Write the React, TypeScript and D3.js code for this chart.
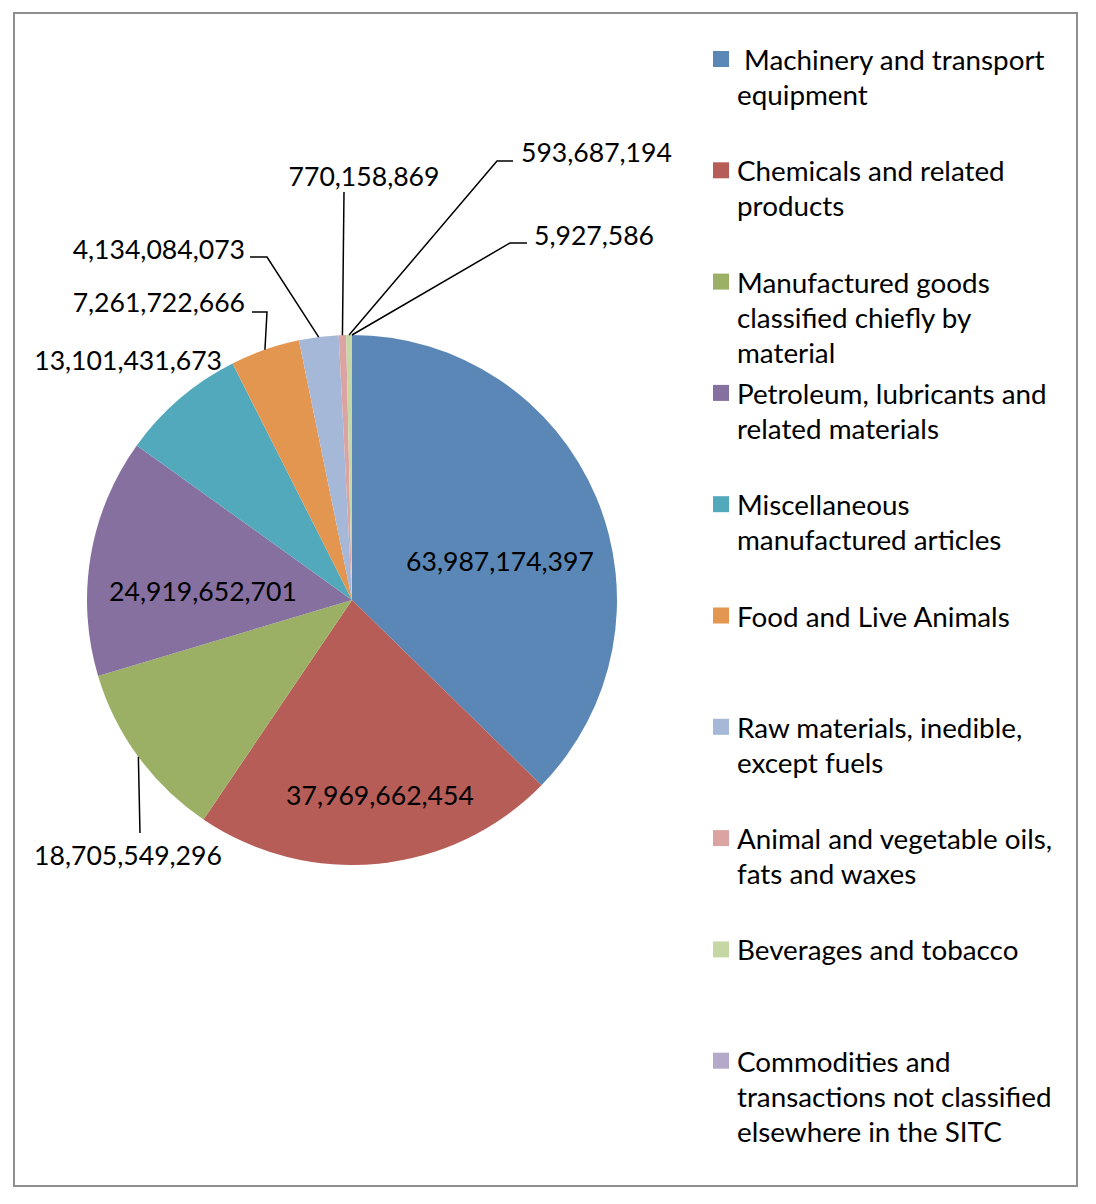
import React, { useEffect, useRef } from 'react';
import * as d3 from 'd3';

// SITC categories, clockwise from 12 o'clock
const categories = [
  'Machinery and transport equipment',
  'Chemicals and related products',
  'Manufactured goods classified chiefly by material',
  'Petroleum, lubricants and related materials',
  'Miscellaneous manufactured articles',
  'Food and Live Animals',
  'Raw materials, inedible, except fuels',
  'Animal and vegetable oils, fats and waxes',
  'Beverages and tobacco',
  'Commodities and transactions not classified elsewhere in the SITC',
];

const values = [
  63987174397, 37969662454, 18705549296, 24919652701, 13101431673,
  7261722666, 4134084073, 770158869, 593687194, 5927586,
];

// legend text broken the way the original wraps it
const legendLines = [
  [' Machinery and transport', 'equipment'],
  ['Chemicals and related', 'products'],
  ['Manufactured goods', 'classified chiefly by', 'material'],
  ['Petroleum, lubricants and', 'related materials'],
  ['Miscellaneous', 'manufactured articles'],
  ['Food and Live Animals'],
  ['Raw materials, inedible,', 'except fuels'],
  ['Animal and vegetable oils,', 'fats and waxes'],
  ['Beverages and tobacco'],
  ['Commodities and', 'transactions not classified', 'elsewhere in the SITC'],
];

const colors = [
  '#5A87B5', '#B75D58', '#9BB064', '#8670A0', '#53A9BC',
  '#E2964F', '#A5B8D8', '#DCA3A3', '#C6D7A6', '#B5A9C9',
];

// label layout: text anchor point, anchor, and optional leader elbow
type LabelPos = { x: number; y: number; anchor: string; elbow?: [number, number][] };
const labelPos: LabelPos[] = [
  { x: 500, y: 571, anchor: 'middle' },
  { x: 380, y: 805, anchor: 'middle' },
  { x: 128, y: 865, anchor: 'middle', elbow: [[140, 833]] },
  { x: 203, y: 601, anchor: 'middle' },
  { x: 222, y: 370, anchor: 'end' },
  { x: 245, y: 312, anchor: 'end', elbow: [[252, 312], [267, 312]] },
  { x: 245, y: 259, anchor: 'end', elbow: [[250, 257], [267, 257]] },
  { x: 364, y: 186, anchor: 'middle', elbow: [[344, 192]] },
  { x: 521, y: 162, anchor: 'start', elbow: [[513, 161], [497, 161]] },
  { x: 534, y: 245, anchor: 'start', elbow: [[527, 243], [510, 243]] },
];

const FONT = 'Lato, "Open Sans", sans-serif';

export default function App() {
  const ref = useRef<SVGSVGElement>(null);

  useEffect(() => {
    if (!ref.current) return;
    const svg = d3.select(ref.current);
    svg.selectAll('*').remove();

    svg.append('rect')
      .attr('x', 14).attr('y', 13).attr('width', 1063).attr('height', 1173)
      .attr('fill', '#fff').attr('stroke', '#8e8e8e').attr('stroke-width', 2);

    const cx = 352, cy = 600, r = 265;
    const g = svg.append('g').attr('transform', `translate(${cx},${cy})`);

    const pie = d3.pie<number>().value((d) => d).sort(null);
    const arcs = pie(values);
    const arc = d3.arc<d3.PieArcDatum<number>>().innerRadius(0).outerRadius(r);

    g.selectAll('path.slice')
      .data(arcs)
      .enter()
      .append('path')
      .attr('class', 'slice')
      .attr('d', arc)
      .attr('fill', (_, i) => colors[i]);

    // leader lines, ending at the middle of each slice's rim
    const fmt = d3.format(',');
    arcs.forEach((a, i) => {
      const p = labelPos[i];
      if (!p.elbow) return;
      const mid = (a.startAngle + a.endAngle) / 2;
      const end: [number, number] = [cx + r * Math.sin(mid), cy - r * Math.cos(mid)];
      const pts: [number, number][] = [...p.elbow, end];
      svg.append('path')
        .attr('d', d3.line()(pts))
        .attr('fill', 'none')
        .attr('stroke', '#000')
        .attr('stroke-width', 1.5);
    });

    svg.selectAll('text.val')
      .data(arcs)
      .enter()
      .append('text')
      .attr('class', 'val')
      .attr('x', (_, i) => labelPos[i].x)
      .attr('y', (_, i) => labelPos[i].y)
      .attr('text-anchor', (_, i) => labelPos[i].anchor)
      .attr('font-family', FONT)
      .attr('font-size', 26.6)
      .attr('fill', '#000')
      .text((d) => fmt(d.value));

    // legend
    const lg = svg.append('g');
    legendLines.forEach((lines, i) => {
      const y0 = 60 + i * 111.3;
      lg.append('rect')
        .attr('x', 713).attr('y', y0 - 9).attr('width', 16).attr('height', 16)
        .attr('fill', colors[i]);
      lines.forEach((t, j) => {
        lg.append('text')
          .attr('x', 737)
          .attr('y', y0 + 10 + j * 35)
          .attr('font-family', FONT)
          .attr('font-size', 27.8)
          .attr('fill', '#000')
          .attr('xml:space', 'preserve')
          .style('white-space', 'pre')
          .text(t);
      });
    });
  }, []);

  return (
    <svg
      ref={ref}
      width={1096}
      height={1204}
      style={{ position: 'absolute', top: 0, left: 0, background: '#fff' }}
    />
  );
}
